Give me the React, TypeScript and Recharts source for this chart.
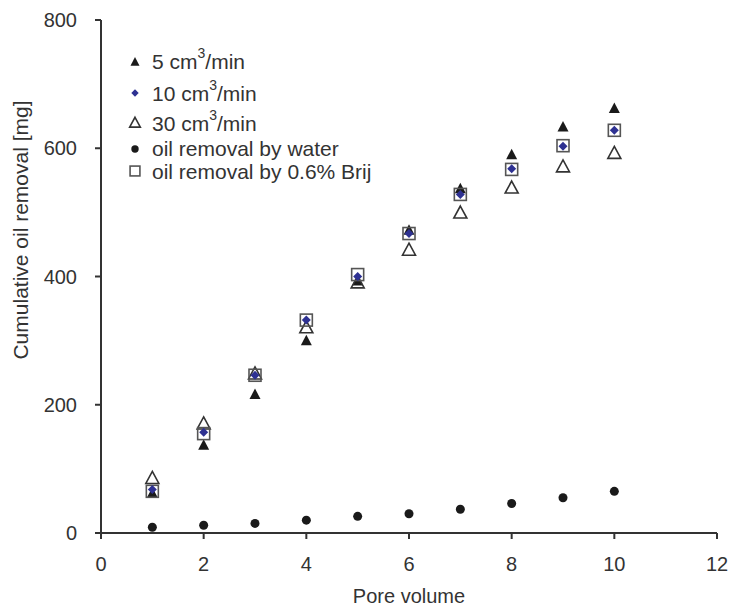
import { ScatterChart, Scatter, XAxis, YAxis, Legend } from 'recharts';

const poreVolume = [1, 2, 3, 4, 5, 6, 7, 8, 9, 10];
const rate5 = [62, 137, 216, 300, 393, 472, 537, 590, 633, 662];
const rate10 = [68, 157, 246, 332, 400, 467, 528, 568, 603, 628];
const rate30 = [85, 170, 248, 320, 390, 441, 499, 538, 571, 592];
const water = [9, 12, 15, 20, 26, 30, 37, 46, 55, 65];
const brij = [65, 155, 246, 332, 403, 467, 528, 567, 604, 628];

const xTicks = [0, 2, 4, 6, 8, 10, 12];
const yTicks = [0, 200, 400, 600, 800];

const FONT = '"Liberation Sans", Arial, sans-serif';
const INK = '#333';
const NAVY = '#2E3192';

const pts = (vals: number[]) => poreVolume.map((x, i) => ({ x, y: vals[i] }));

type Kind = 'tri' | 'dia' | 'otri' | 'dot' | 'sq';

function Mark({ kind, cx, cy, s = 1 }: { kind: Kind; cx: number; cy: number; s?: number }) {
  if (kind === 'tri') return <path d={`M${cx},${cy - 6 * s} L${cx + 5.5 * s},${cy + 4.5 * s} L${cx - 5.5 * s},${cy + 4.5 * s} Z`} fill="#1a1a1a" />;
  if (kind === 'otri') return <path d={`M${cx},${cy - 7 * s} L${cx + 6.5 * s},${cy + 5 * s} L${cx - 6.5 * s},${cy + 5 * s} Z`} fill="none" stroke={INK} strokeWidth={1.6} />;
  if (kind === 'dia') return <path d={`M${cx},${cy - 4.5 * s} L${cx + 4.5 * s},${cy} L${cx},${cy + 4.5 * s} L${cx - 4.5 * s},${cy} Z`} fill={NAVY} />;
  if (kind === 'dot') return <circle cx={cx} cy={cy} r={4.5 * s} fill="#1a1a1a" />;
  return <rect x={cx - 6 * s} y={cy - 6 * s} width={12 * s} height={12 * s} fill="none" stroke="#555" strokeWidth={1.6} />;
}

const shape = (kind: Kind) => (p: any) => <Mark kind={kind} cx={p.cx} cy={p.cy} />;

const sup = <span style={{ fontSize: 14, position: 'relative', top: -11 }}>3</span>;

const legendRows: { kind: Kind; label: React.ReactNode; h: number }[] = [
  { kind: 'tri', label: <>5 cm{sup}/min</>, h: 31 },
  { kind: 'dia', label: <>10 cm{sup}/min</>, h: 32 },
  { kind: 'otri', label: <>30 cm{sup}/min</>, h: 28 },
  { kind: 'dot', label: 'oil removal by water', h: 23 },
  { kind: 'sq', label: 'oil removal by 0.6% Brij', h: 22 },
];

function LegendBox() {
  return (
    <div style={{ fontFamily: FONT, fontSize: 21, color: INK }}>
      {legendRows.map((r, i) => (
        <div key={i} style={{ display: 'flex', alignItems: 'center', height: r.h, whiteSpace: 'nowrap' }}>
          <svg width={18} height={18} style={{ marginRight: 8, flex: 'none' }}>
            <Mark kind={r.kind} cx={9} cy={9} s={0.82} />
          </svg>
          <span style={{ lineHeight: 1 }}>{r.label}</span>
        </div>
      ))}
    </div>
  );
}

const YTitle = () => (
  <text x={20} y={230} transform="rotate(-90, 20, 230)" textAnchor="middle" dominantBaseline="central"
    style={{ fontFamily: FONT, fontSize: 21, fill: INK }}>
    Cumulative oil removal [mg]
  </text>
);

export default function App() {
  const tick = { fontFamily: FONT, fontSize: 20, fill: INK };
  return (
    <div style={{ position: 'absolute', left: 0, top: 0, background: '#fff' }}>
      <ScatterChart width={733} height={608} margin={{ top: 20, right: 16, bottom: 0, left: 0 }}>
        <XAxis type="number" dataKey="x" domain={[0, 12]} ticks={xTicks} height={75}
          tick={tick} tickSize={6} tickMargin={18} stroke={INK} strokeWidth={2}
          label={{ value: 'Pore volume', position: 'insideBottom', offset: 5, style: { fontFamily: FONT, fontSize: 20, fill: INK } }} />
        <XAxis xAxisId="top" orientation="top" type="number" domain={[0, 12]} height={0} tick={false} tickLine={false} stroke={INK} strokeWidth={2} />
        <YAxis type="number" dataKey="y" domain={[0, 800]} ticks={yTicks} width={101}
          tick={tick} tickSize={6} tickMargin={18} stroke={INK} strokeWidth={2}
          label={YTitle} />
        <YAxis yAxisId="right" orientation="right" type="number" domain={[0, 800]} width={0} tick={false} tickLine={false} stroke={INK} strokeWidth={2} />
        <Legend layout="vertical" align="center" verticalAlign="middle" content={() => <LegendBox />}
          wrapperStyle={{ left: 126, top: 46, width: 'auto' }} />
        <Scatter name="water" data={pts(water)} shape={shape('dot')} isAnimationActive={false} />
        <Scatter name="5" data={pts(rate5)} shape={shape('tri')} isAnimationActive={false} />
        <Scatter name="30" data={pts(rate30)} shape={shape('otri')} isAnimationActive={false} />
        <Scatter name="brij" data={pts(brij)} shape={shape('sq')} isAnimationActive={false} />
        <Scatter name="10" data={pts(rate10)} shape={shape('dia')} isAnimationActive={false} />
      </ScatterChart>
    </div>
  );
}
